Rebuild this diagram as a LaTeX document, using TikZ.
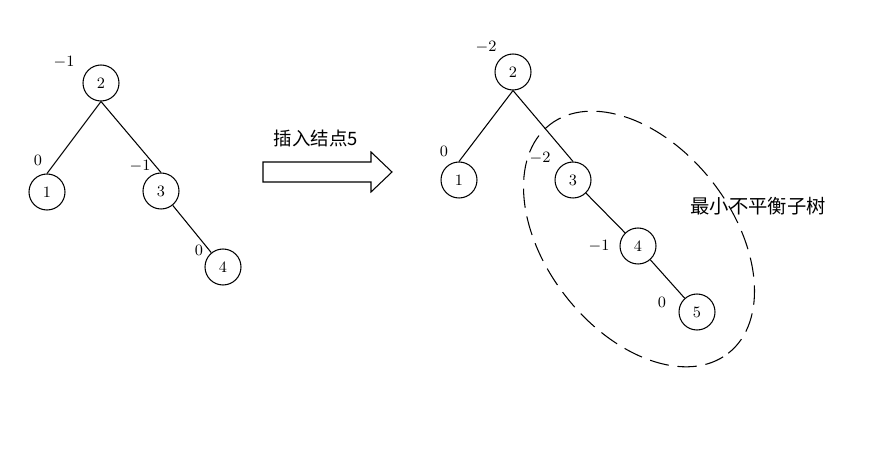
\documentclass[tikz,border=0pt]{standalone}
\usepackage{fontspec}
\newfontfamily\cjk{Noto Sans CJK SC}
\usetikzlibrary{positioning}

\tikzset{
    bnode/.style={draw, circle, minimum size=0.72cm, inner sep=0pt, line width=0.6pt, font=\small},
    bal/.style={font=\small},
    edge/.style={line width=0.6pt},
}

\begin{document}
\begin{tikzpicture}
    \useasboundingbox (0,0) rectangle (17.38,9.24);

    % Tree before insertion
    \node[bnode] (a2) at (2.02, 7.58) {2};
    \node[bnode] (a1) at (0.94, 5.40) {1};
    \node[bnode] (a3) at (3.22, 5.42) {3};
    \node[bnode] (a4) at (4.46, 3.90) {4};
    \node[bal] (ba2) at (1.28, 8.00) {$-1$};
    \node[bal] (ba1) at (0.76, 6.04) {0};
    \node[bal] (ba3) at (2.80, 5.92) {$-1$};
    \node[bal] (ba4) at (3.98, 4.24) {0};
    \draw[edge] (a2.south) -- (a1.north);
    \draw[edge] (a2.south) -- (a3.north);
    \draw[edge] (a3) -- (a4);

    % Insert arrow
    \draw[edge] (5.26, 5.60) -- (7.42, 5.60) -- (7.42, 5.40) -- (7.84, 5.80)
        -- (7.42, 6.20) -- (7.42, 6.00) -- (5.26, 6.00) -- cycle;
    \node (ins) at (6.32, 6.48) {\cjk\fontsize{10.5}{12}\selectfont 插入结点5};

    % Tree after insertion
    \node[bnode] (b2) at (10.26, 7.80) {2};
    \node[bnode] (b1) at (9.18, 5.64) {1};
    \node[bnode] (b3) at (11.46, 5.64) {3};
    \node[bnode] (b4) at (12.76, 4.32) {4};
    \node[bnode] (b5) at (13.94, 3.00) {5};
    \node[bal] (bb2) at (9.72, 8.30) {$-2$};
    \node[bal] (bb1) at (8.88, 6.22) {0};
    \node[bal] (bb3) at (10.80, 6.08) {$-2$};
    \node[bal] (bb4) at (11.98, 4.32) {$-1$};
    \node[bal] (bb5) at (13.24, 3.20) {0};
    \draw[edge] (b2.south) -- (b1.north);
    \draw[edge] (b2.south) -- (b3.north);
    \draw[edge] (b3) -- (b4);
    \draw[edge] (b4) -- (b5);

    % Minimal unbalanced subtree
    \draw[edge, dash pattern=on 11pt off 5pt, rotate around={-52:(12.78, 4.46)}]
        (12.78, 4.46) ellipse (2.9cm and 1.86cm);
    \node (sub) at (15.16, 5.12) {\cjk\fontsize{11}{13}\selectfont 最小不平衡子树};
\end{tikzpicture}
\end{document}
